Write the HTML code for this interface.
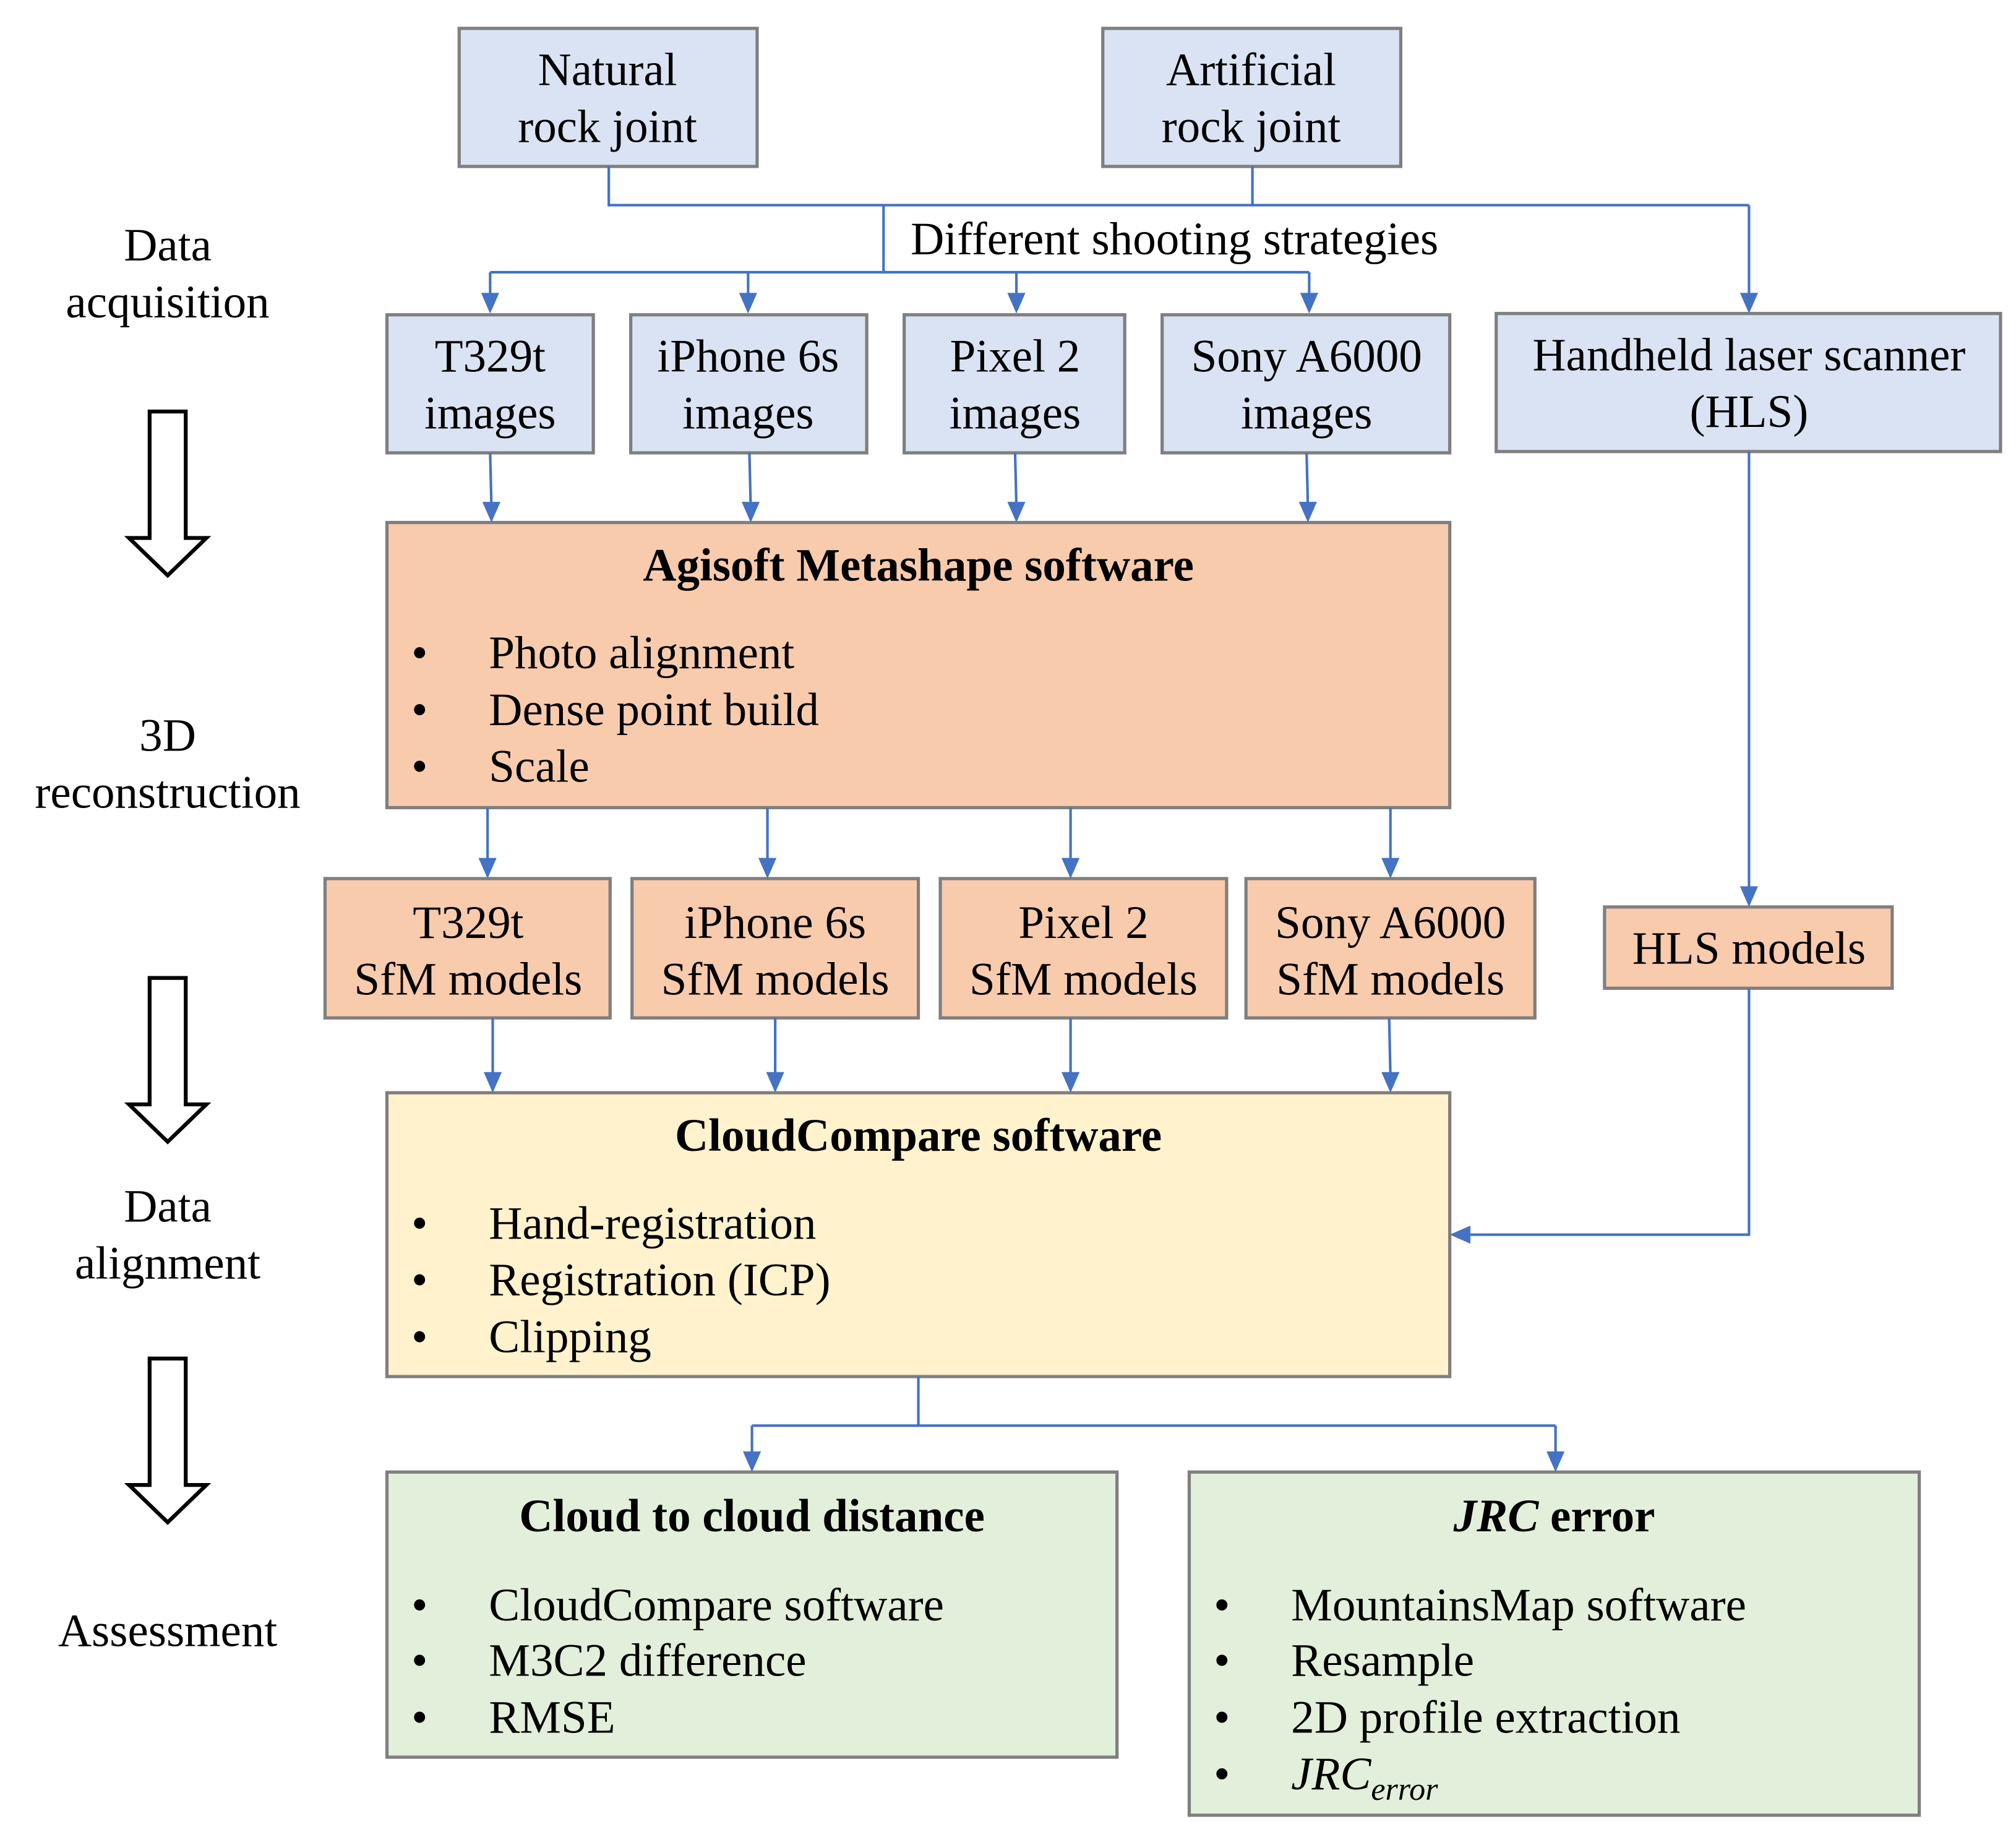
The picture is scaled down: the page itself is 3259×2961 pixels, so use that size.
<!DOCTYPE html>
<html><head><meta charset="utf-8"><style>
html,body{margin:0;padding:0;background:#fff;}
svg{display:block;}
text{font-family:"Liberation Serif","Times New Roman",serif;font-size:36px;fill:#000;}
.b{font-weight:bold;}
</style></head><body>
<svg width="3259" height="2961" viewBox="0 0 1563 1420" preserveAspectRatio="none" xmlns="http://www.w3.org/2000/svg">
<g stroke="#7f7f7f" stroke-width="2.5">
<rect x="356" y="22" width="231" height="107" fill="#dae3f3"/>
<rect x="855" y="22" width="231" height="107" fill="#dae3f3"/>
<rect x="300" y="244" width="160" height="107" fill="#dae3f3"/>
<rect x="489" y="244" width="183" height="107" fill="#dae3f3"/>
<rect x="701" y="244" width="171" height="107" fill="#dae3f3"/>
<rect x="901" y="244" width="223" height="107" fill="#dae3f3"/>
<rect x="1160" y="243" width="391" height="107" fill="#dae3f3"/>
<rect x="300" y="405" width="824" height="221" fill="#f8cbad"/>
<rect x="252" y="681" width="221" height="108" fill="#f8cbad"/>
<rect x="490" y="681" width="222" height="108" fill="#f8cbad"/>
<rect x="729" y="681" width="222" height="108" fill="#f8cbad"/>
<rect x="966" y="681" width="224" height="108" fill="#f8cbad"/>
<rect x="1244" y="703" width="223" height="63" fill="#f8cbad"/>
<rect x="300" y="847" width="824" height="220" fill="#fff2cc"/>
<rect x="300" y="1141" width="566" height="221" fill="#e2efda"/>
<rect x="922" y="1141" width="566" height="266" fill="#e2efda"/>
</g>
<g stroke="#4472c4" stroke-width="2" fill="none">
<polyline points="472,129 472,159 1356,159"/>
<line x1="971" y1="129" x2="971" y2="159"/>
<line x1="1356" y1="159" x2="1356" y2="230"/>
<line x1="685" y1="159" x2="685" y2="211"/>
<line x1="380" y1="211" x2="1015" y2="211"/>
<line x1="380" y1="211" x2="380" y2="230"/>
<line x1="580" y1="211" x2="580" y2="230"/>
<line x1="788" y1="211" x2="788" y2="230"/>
<line x1="1015" y1="211" x2="1015" y2="230"/>
<line x1="380" y1="351" x2="381" y2="392"/>
<line x1="581" y1="351" x2="582" y2="392"/>
<line x1="787" y1="351" x2="788" y2="392"/>
<line x1="1013" y1="351" x2="1014" y2="392"/>
<line x1="378" y1="626" x2="378" y2="668"/>
<line x1="595" y1="626" x2="595" y2="668"/>
<line x1="830" y1="626" x2="830" y2="668"/>
<line x1="1078" y1="626" x2="1078" y2="668"/>
<line x1="1356" y1="350" x2="1356" y2="690"/>
<line x1="382" y1="789" x2="382" y2="834"/>
<line x1="601" y1="789" x2="601" y2="834"/>
<line x1="830" y1="789" x2="830" y2="834"/>
<line x1="1077" y1="789" x2="1078" y2="834"/>
<polyline points="1356,766 1356,957 1138,957"/>
<line x1="712" y1="1067" x2="712" y2="1105"/>
<line x1="583" y1="1105" x2="1206" y2="1105"/>
<line x1="583" y1="1105" x2="583" y2="1128"/>
<line x1="1206" y1="1105" x2="1206" y2="1128"/>
</g>
<g fill="#4472c4">
<polygon points="373,227 387,227 380,243"/>
<polygon points="573,227 587,227 580,243"/>
<polygon points="781,227 795,227 788,243"/>
<polygon points="1008,227 1022,227 1015,243"/>
<polygon points="1349,227 1363,227 1356,243"/>
<polygon points="374,389 388,389 381,405"/>
<polygon points="575,389 589,389 582,405"/>
<polygon points="781,389 795,389 788,405"/>
<polygon points="1007,389 1021,389 1014,405"/>
<polygon points="371,665 385,665 378,681"/>
<polygon points="588,665 602,665 595,681"/>
<polygon points="823,665 837,665 830,681"/>
<polygon points="1071,665 1085,665 1078,681"/>
<polygon points="1349,687 1363,687 1356,703"/>
<polygon points="375,831 389,831 382,847"/>
<polygon points="594,831 608,831 601,847"/>
<polygon points="823,831 837,831 830,847"/>
<polygon points="1071,831 1085,831 1078,847"/>
<polygon points="1140,950 1140,964 1124,957"/>
<polygon points="576,1125 590,1125 583,1141"/>
<polygon points="1199,1125 1213,1125 1206,1141"/>
</g>
<g fill="#fff" stroke="#000" stroke-width="3" stroke-linejoin="miter">
<path d="M116,319 L144,319 L144,417 L160,417 L130,446 L100,417 L116,417 Z"/>
<path d="M116,758 L144,758 L144,856 L160,856 L130,885 L100,856 L116,856 Z"/>
<path d="M116,1053 L144,1053 L144,1151 L160,1151 L130,1180 L100,1151 L116,1151 Z"/>
</g>
<g text-anchor="middle">
<text x="471" y="66">Natural</text><text x="471" y="110">rock joint</text>
<text x="970" y="66">Artificial</text><text x="970" y="110">rock joint</text>
<text x="380" y="288">T329t</text><text x="380" y="332">images</text>
<text x="580" y="288">iPhone 6s</text><text x="580" y="332">images</text>
<text x="787" y="288">Pixel 2</text><text x="787" y="332">images</text>
<text x="1013" y="288">Sony A6000</text><text x="1013" y="332">images</text>
<text x="1356" y="287">Handheld laser scanner</text><text x="1356" y="331">(HLS)</text>
<text x="712" y="450" class="b">Agisoft Metashape software</text>
<text x="363" y="727">T329t</text><text x="363" y="771">SfM models</text>
<text x="601" y="727">iPhone 6s</text><text x="601" y="771">SfM models</text>
<text x="840" y="727">Pixel 2</text><text x="840" y="771">SfM models</text>
<text x="1078" y="727">Sony A6000</text><text x="1078" y="771">SfM models</text>
<text x="1356" y="747">HLS models</text>
<text x="712" y="892" class="b">CloudCompare software</text>
<text x="583" y="1187" class="b">Cloud to cloud distance</text>
<text x="1205" y="1187" class="b"><tspan font-style="italic">JRC</tspan> error</text>
<text x="130" y="202">Data</text><text x="130" y="246">acquisition</text>
<text x="130" y="582">3D</text><text x="130" y="626">reconstruction</text>
<text x="130" y="947">Data</text><text x="130" y="991">alignment</text>
<text x="130" y="1276">Assessment</text>
</g>
<text x="706" y="197">Different shooting strategies</text>
<g>
<text x="319" y="518">•</text><text x="379" y="518">Photo alignment</text>
<text x="319" y="562">•</text><text x="379" y="562">Dense point build</text>
<text x="319" y="606">•</text><text x="379" y="606">Scale</text>
<text x="319" y="960">•</text><text x="379" y="960">Hand-registration</text>
<text x="319" y="1004">•</text><text x="379" y="1004">Registration (ICP)</text>
<text x="319" y="1048">•</text><text x="379" y="1048">Clipping</text>
<text x="319" y="1256">•</text><text x="379" y="1256">CloudCompare software</text>
<text x="319" y="1299">•</text><text x="379" y="1299">M3C2 difference</text>
<text x="319" y="1343">•</text><text x="379" y="1343">RMSE</text>
<text x="941" y="1256">•</text><text x="1001" y="1256">MountainsMap software</text>
<text x="941" y="1299">•</text><text x="1001" y="1299">Resample</text>
<text x="941" y="1343">•</text><text x="1001" y="1343">2D profile extraction</text>
<text x="941" y="1387">•</text><text x="1001" y="1387" font-style="italic">JRC<tspan font-size="25" dy="8">error</tspan></text>
</g>
</svg>
</body></html>
